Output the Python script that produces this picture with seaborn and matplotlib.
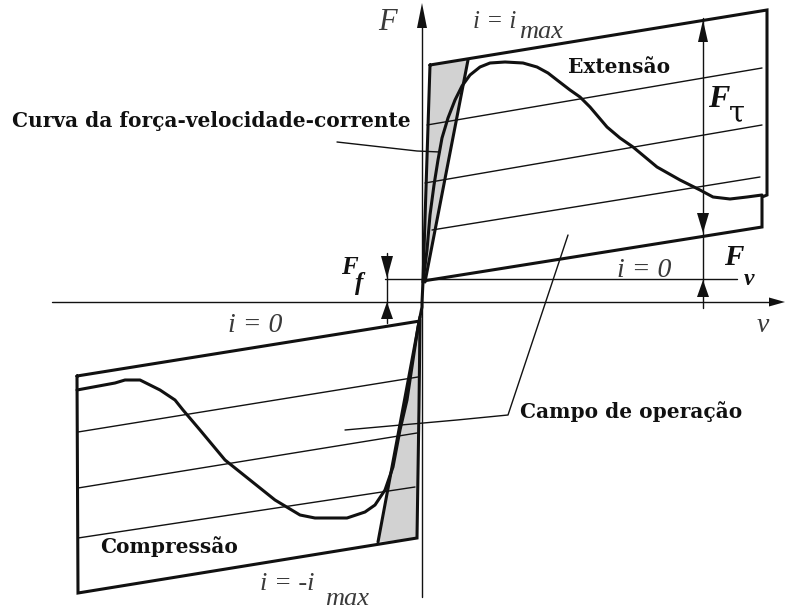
import numpy as np
import pandas as pd
import matplotlib
matplotlib.use("Agg")
import matplotlib.pyplot as plt
import seaborn as sns

# Force F against velocity v (origin at the crossing of the axes)

# Extension field (upper quadrant), outline and shaded stiffness wedge
ext_outline_v = [8, 345, 345, 340, 340, 1, 8]
ext_outline_F = [237, 292, 107, 105, 75, 21, 237]
ext_wedge_v = [8, 46, 3, 1]
ext_wedge_F = [237, 242, 20, 21]
ext_edge_v = [46, 3]
ext_edge_F = [242, 20]

# Compression field (lower quadrant)
cmp_outline_v = [-345, -344, -5, -3, -2, -345]
cmp_outline_F = [-74, -291, -236, -105, -19, -74]
cmp_wedge_v = [-44, -5, -3, -1]
cmp_wedge_F = [-240, -236, -105, -15]
cmp_edge_v = [-44, -2]
cmp_edge_F = [-240, -15]

# Constant-current lines inside each field (start and end points)
ext_levels_v = [(5, 340), (3, 340), (10, 338)]
ext_levels_F = [(177, 234), (119, 177), (72, 125)]
cmp_levels_v = [(-344, -4), (-344, -5), (-344, -7)]
cmp_levels_F = [(-130, -75), (-186, -131), (-236, -185)]

# i = 0 reference level
zero_v = [-37, 315]
zero_F = [23, 23]

# Force-velocity-current curve
curve_v = [-345, -307, -297, -282, -262, -247, -239, -222, -197, -172, -147,
           -122, -107, -75, -57, -47, -37, -29, -22, -15, -9, -4, 0,
           0, 1, 5, 8, 12, 16, 20, 26, 33, 40, 48, 58, 68, 83, 101, 115,
           126, 135, 148, 158, 168, 185, 198, 211, 235, 258, 278, 291,
           308, 325, 340]
curve_F = [-88, -81, -78, -78, -88, -98, -108, -128, -158, -178, -198,
           -213, -216, -216, -210, -203, -188, -165, -128, -98, -58, -25, -5,
           0, 20, 52, 87, 117, 142, 164, 184, 202, 216, 227, 235, 239, 240,
           239, 235, 229, 222, 212, 205, 195, 175, 164, 155, 135, 122, 112,
           105, 103, 105, 107]

# Leader lines for the annotations
campo_v = [-77, 35, 86, 146]
campo_F = [-128, -118, -113, 67]
curva_v = [-85, -5, 18]
curva_F = [160, 151, 150]

# Dimension arrows: F_tau / F_v column and F_f column
ftau_v = 281
ftau_F = [284, -6]
ff_v = -35
ff_F = [49, -21]

sns.set_theme(style="white")
plt.rcParams["font.family"] = ["DejaVu Serif", "DejaVu Sans"]

fig = plt.figure(figsize=(7.86, 6.11), dpi=100)
ax = fig.add_axes([0, 0, 1, 1])
ax.set_xlim(-422, 364)
ax.set_ylim(-309, 302)
ax.axis("off")

INK = "#111111"
SHADE = "#d2d2d2"

# shaded wedges
ax.fill(ext_wedge_v, ext_wedge_F, color=SHADE, lw=0, zorder=1)
ax.fill(cmp_wedge_v, cmp_wedge_F, color=SHADE, lw=0, zorder=1)

# axes with arrowheads
ax.plot([-370, 350], [0, 0], color=INK, lw=1.0, zorder=2)
ax.plot([0, 0], [-295, 280], color=INK, lw=1.0, zorder=2)


def head(tip_v, tip_F, dv, dF, length, half):
    d = np.array([dv, dF], float)
    d /= np.linalg.norm(d)
    n = np.array([-d[1], d[0]])
    tip = np.array([tip_v, tip_F], float)
    base = tip - d * length
    pts = np.array([tip, base + n * half, base - n * half])
    ax.fill(pts[:, 0], pts[:, 1], color=INK, lw=0, zorder=5)


head(363, 0, 1, 0, 16, 4.5)
head(0, 299, 0, 1, 25, 5)

# thin constant-current lines and i = 0 level
rows = []
for k, (vv, ff) in enumerate(zip(ext_levels_v + cmp_levels_v,
                                 ext_levels_F + cmp_levels_F)):
    for a, b in zip(vv, ff):
        rows.append({"line": k, "v": a, "F": b})
for a, b in zip(zero_v, zero_F):
    rows.append({"line": 99, "v": a, "F": b})
levels = pd.DataFrame(rows)
sns.lineplot(data=levels, x="v", y="F", units="line", estimator=None,
             sort=False, color=INK, lw=1.0, ax=ax, zorder=3)

# leader lines
sns.lineplot(x=campo_v, y=campo_F, sort=False, estimator=None,
             color=INK, lw=1.0, ax=ax, zorder=3)
sns.lineplot(x=curva_v, y=curva_F, sort=False, estimator=None,
             color=INK, lw=1.0, ax=ax, zorder=3)

# field outlines and wedge edges
for vv, ff in [(ext_outline_v, ext_outline_F), (cmp_outline_v, cmp_outline_F),
               (ext_edge_v, ext_edge_F), (cmp_edge_v, cmp_edge_F)]:
    sns.lineplot(x=vv, y=ff, sort=False, estimator=None, color=INK,
                 lw=2.2, ax=ax, zorder=4, solid_joinstyle="miter")

# force-velocity-current curve
sns.lineplot(x=curve_v, y=curve_F, sort=False, estimator=None, color=INK,
             lw=2.2, ax=ax, zorder=4, solid_joinstyle="round",
             solid_capstyle="round")

# dimension arrows
ax.plot([ftau_v, ftau_v], ftau_F, color=INK, lw=1.0, zorder=3)
head(ftau_v, 282, 0, 1, 22, 5)
head(ftau_v, 69, 0, -1, 20, 6)
head(ftau_v, 22, 0, 1, 17, 6)
ax.plot([ff_v, ff_v], ff_F, color=INK, lw=1.0, zorder=3)
head(ff_v, 24, 0, -1, 22, 6)
head(ff_v, 0, 0, 1, 17, 6)

# labels
ITAL = dict(family=["Liberation Serif", "DejaVu Serif"], style="italic",
            color="#3a3a3a")
BOLD = dict(family=["DejaVu Serif"], weight="bold", color=INK, size=14.5)

ax.text(-44, 272, "F", size=22, va="baseline", ha="left", **ITAL)
ax.text(51, 274, "i = i", size=18, va="baseline", ha="left", **ITAL)
ax.text(97, 264, "max", size=19, va="baseline", ha="left", **ITAL)
ax.text(195, 25, "i = 0", size=20, va="baseline", ha="left", **ITAL)
ax.text(-194, -30, "i = 0", size=20, va="baseline", ha="left", **ITAL)
ax.text(-162, -288, "i = -i", size=19, va="baseline", ha="left", **ITAL)
ax.text(-97, -303, "max", size=19, va="baseline", ha="left", **ITAL)
ax.text(335, -30, "v", size=20, va="baseline", ha="left", **ITAL)

FB = dict(family=["Liberation Serif", "DejaVu Serif"], style="italic",
          weight="bold", color=INK)
ax.text(286, 195, "F", size=23, va="baseline", ha="left", **FB)
ax.text(307, 181, "τ", size=21, va="baseline", ha="left",
        family=["DejaVu Serif"], color=INK)
ax.text(302, 37, "F", size=21, va="baseline", ha="left", **FB)
ax.text(322, 17, "v", size=17, va="baseline", ha="left", **FB)
ax.text(-81, 28, "F", size=18, va="baseline", ha="left", **FB)
ax.text(-67, 12, "f", size=18, va="baseline", ha="left", **FB)

ax.text(146, 229, "Extensão", va="baseline", ha="left", **BOLD)
ax.text(-410, 175, "Curva da força-velocidade-corrente", va="baseline",
        ha="left", **BOLD)
ax.text(98, -116, "Campo de operação", va="baseline", ha="left", **BOLD)
ax.text(-322, -251, "Compressão", va="baseline", ha="left", **BOLD)

fig.savefig("out.png", dpi=100, facecolor="white")
